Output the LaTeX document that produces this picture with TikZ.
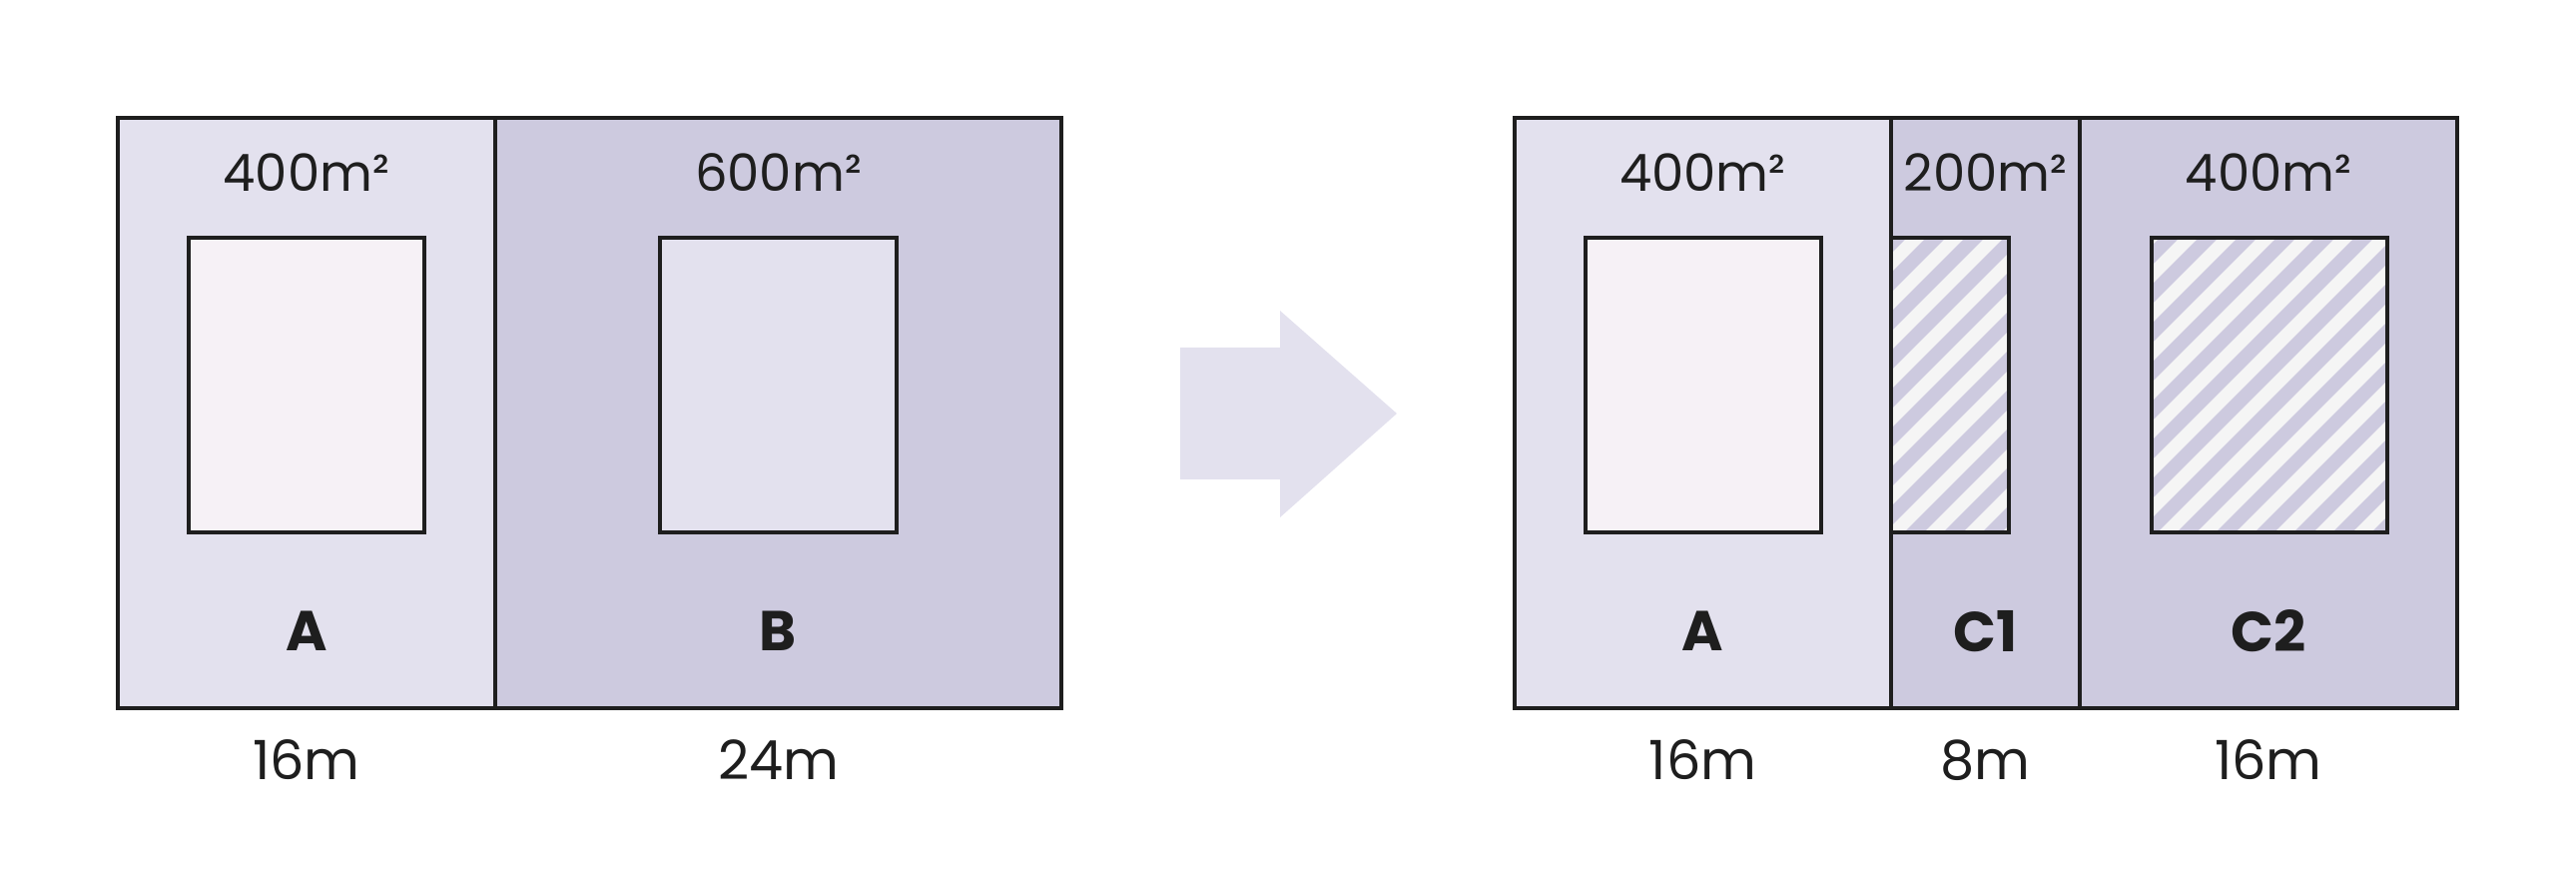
\documentclass[tikz,border=0pt]{standalone}
\usepackage{fontspec}
\setmainfont{Poppins}
\definecolor{ink}{HTML}{1E1E1E}
\definecolor{lightlot}{HTML}{E3E1EE}
\definecolor{darklot}{HTML}{CDCADF}
\definecolor{pinkhouse}{HTML}{F6F1F6}
\definecolor{stripewhite}{HTML}{F5F5F5}
\begin{document}
\begin{tikzpicture}[
	x=0.01cm, y=-0.01cm,
	every node/.style={inner sep=0pt, outer sep=0pt, text=ink},
	lot/.style={draw=ink, line width=0.04cm, rectangle, minimum height=5.91cm},
	house/.style={draw=ink, line width=0.04cm, rectangle, minimum width=2.36cm, minimum height=2.95cm},
	area/.style={font=\fontsize{14.6}{16}\selectfont},
	plotname/.style={font=\fontsize{16}{18}\selectfont\bfseries},
	length/.style={font=\fontsize{15.4}{17}\selectfont},
	stripe/.style={draw=darklot, line width=0.14cm}
	]
	\useasboundingbox (0,0) rectangle (2580,876);

	% Before: lots A and B
	\node[lot, fill=lightlot, minimum width=3.78cm] (lotA) at (307,413.5) {};
	\node[lot, fill=darklot, minimum width=5.67cm] (lotB) at (779.5,413.5) {};
	\node[house, fill=pinkhouse] (houseA) at (307,385.5) {};
	\node[house, fill=lightlot] (houseB) at (779.5,385.5) {};

	\node[area] (areaA) at (307,173) {400m²};
	\node[area] (areaB) at (779.5,173) {600m²};
	\node[plotname] (nameA) at (307,632) {A};
	\node[plotname] (nameB) at (779.5,632) {B};
	\node[length] (lenA) at (307,761) {16m};
	\node[length] (lenB) at (779.5,761) {24m};

	% Arrow
	\fill[lightlot] (1182,348) -- (1282,348) -- (1282,311) -- (1399,414)
		-- (1282,518) -- (1282,480) -- (1182,480) -- cycle;

	% After: lots A, C1 and C2
	\node[lot, fill=lightlot, minimum width=3.77cm] (lotA2) at (1705.5,413.5) {};
	\node[lot, fill=darklot, minimum width=1.89cm] (lotC1) at (1988.5,413.5) {};
	\node[lot, fill=darklot, minimum width=3.78cm] (lotC2) at (2272,413.5) {};
	\node[house, fill=pinkhouse] (houseA2) at (1706,385.5) {};
	\node[house, fill=stripewhite, minimum width=1.18cm] (houseC1) at (1953,385.5) {};
	\node[house, fill=stripewhite] (houseC2) at (2273,385.5) {};

	% Stripes on the new houses
	\foreach \h in {houseC1, houseC2} {
		\begin{scope}
			\clip (\h.south west) rectangle (\h.north east);
			\foreach \c in {2099,2138,...,2957}
				\draw[stripe] (\c-600,600) -- (\c-200,200);
		\end{scope}
		\draw[ink, line width=0.04cm] (\h.south west) rectangle (\h.north east);
	}

	\node[area] (areaA2) at (1705.5,173) {400m²};
	\node[area] (areaC1) at (1988.5,173) {200m²};
	\node[area] (areaC2) at (2272,173) {400m²};
	\node[plotname] (nameA2) at (1705.5,632) {A};
	\node[plotname] (nameC1) at (1988.5,632) {C1};
	\node[plotname] (nameC2) at (2272,632) {C2};
	\node[length] (lenA2) at (1705.5,761) {16m};
	\node[length] (lenC1) at (1988.5,761) {8m};
	\node[length] (lenC2) at (2272,761) {16m};
\end{tikzpicture}
\end{document}
